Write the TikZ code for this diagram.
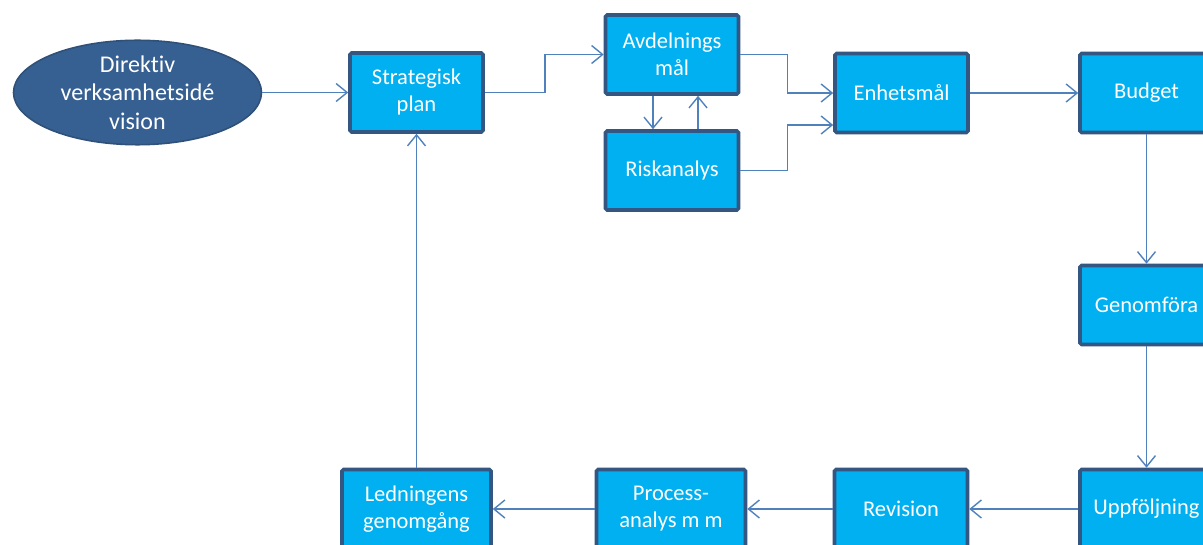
\documentclass[tikz,border=0pt]{standalone}
\usepackage{fontspec}
\setmainfont{Carlito}[Ligatures=NoCommon]
\usetikzlibrary{shapes.geometric,arrows.meta}
\definecolor{boxfill}{RGB}{0,176,240}
\definecolor{boxline}{RGB}{52,86,130}
\definecolor{ellfill}{RGB}{55,96,146}
\definecolor{ellline}{RGB}{47,80,120}
\definecolor{flowline}{RGB}{79,129,189}
\tikzset{
  stepbox/.style={draw=boxline, fill=boxfill, line width=1.8pt, rounded corners=0.8pt,
    minimum width=66.5pt, minimum height=39.5pt, inner sep=0pt, align=center,
    text=white, font=\fontsize{11.25}{13.5}\selectfont},
  widebox/.style={stepbox, minimum width=74.5pt},
  startell/.style={ellipse, draw=ellline, fill=ellfill, line width=0.8pt,
    minimum width=124pt, minimum height=49pt, inner sep=0pt, align=center,
    text=white, font=\fontsize{12}{14.25}\selectfont},
  flow/.style={draw=flowline, line width=0.7pt,
    -{Straight Barb[length=5.5pt,width=9pt,line width=0.7pt]}}
}

\begin{document}
\begin{tikzpicture}[x=0.5pt, y=-0.5pt]
    \useasboundingbox (0,0) rectangle (1203,545);
    \clip (0,0) rectangle (1203,545);

    % top row
    \node[startell] (vision) at (137.5,92.5) {Direktiv\\verksamhetsidé\\vision};
    \node[stepbox] (strat) at (416.5,92.5) {Strategisk\\plan};
    \node[stepbox] (avd) at (672,54.5) {Avdelnings\\mål};
    \node[stepbox] (risk) at (672,170.5) {Riskanalys};
    \node[stepbox] (enh) at (901.5,93) {Enhetsmål};
    \node[stepbox] (budget) at (1146.5,93) {Budget};

    % right column and bottom row
    \node[stepbox] (genom) at (1146.5,305) {Genomföra};
    \node[stepbox] (uppf) at (1146.5,509) {Uppföljning};
    \node[stepbox] (rev) at (901,509) {Revision};
    \node[widebox] (proc) at (671,509) {Process-\\analys m m};
    \node[widebox] (led) at (416.5,509) {Ledningens\\genomgång};

    % connectors
    \draw[flow] (vision) -- (strat);
    \draw[flow] (strat.east) -- ++(60,0) |- (avd.west);
    \draw[flow] ([xshift=-9.5pt]avd.south) -- ([xshift=-9.5pt]risk.north);
    \draw[flow] ([xshift=13pt]risk.north) -- ([xshift=13pt]avd.south);
    \draw[flow] (avd.east) -- ++(47,0) |- (enh.west);
    \draw[flow] (risk.east) -- ++(47,0) |- ([yshift=-16pt]enh.west);
    \draw[flow] (enh) -- (budget);
    \draw[flow] (budget) -- (genom);
    \draw[flow] (genom) -- (uppf);
    \draw[flow] (uppf) -- (rev);
    \draw[flow] (rev) -- (proc);
    \draw[flow] (proc) -- (led);
    \draw[flow] (led) -- (strat);
\end{tikzpicture}
\end{document}
